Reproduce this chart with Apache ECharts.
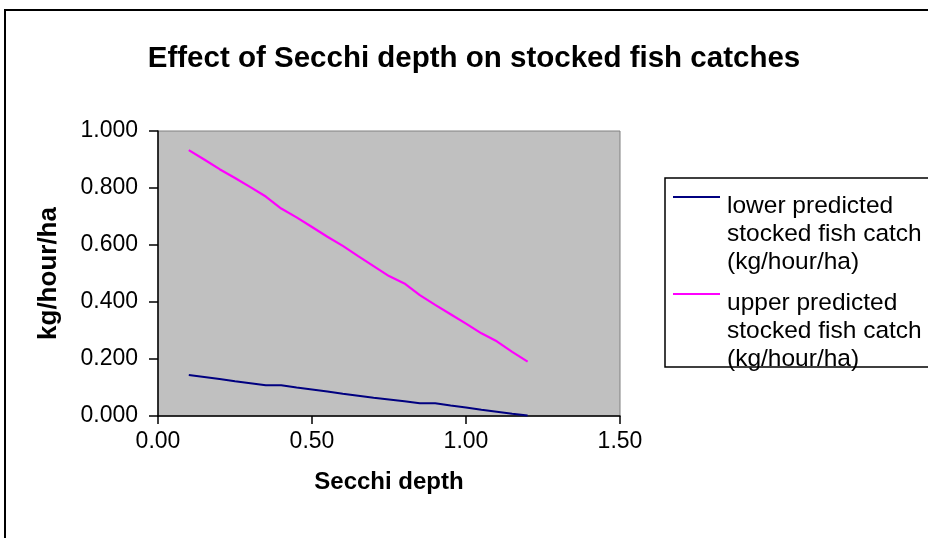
<!DOCTYPE html>
<html>
<head>
<meta charset="utf-8">
<script src="https://cdn.jsdelivr.net/npm/echarts@6/dist/echarts.min.js"></script>
<style>
html,body{margin:0;padding:0;background:#fff;}
#chart{width:928px;height:538px;}
</style>
</head>
<body>
<div id="chart"></div>
<script>
const secchiDepth = [0.10,0.15,0.20,0.25,0.30,0.35,0.40,0.45,0.50,0.55,0.60,0.65,0.70,0.75,0.80,0.85,0.90,0.95,1.00,1.05,1.10,1.15,1.20];
const lowerCatch = [0.144,0.137,0.130,0.122,0.115,0.108,0.108,0.100,0.093,0.086,0.078,0.071,0.064,0.058,0.052,0.045,0.045,0.037,0.030,0.022,0.015,0.008,0.002];
const upperCatch = [0.933,0.900,0.866,0.835,0.803,0.770,0.728,0.697,0.663,0.629,0.597,0.561,0.526,0.491,0.465,0.424,0.390,0.357,0.324,0.290,0.262,0.225,0.191];
const seriesNames = ['lower predicted\nstocked fish catch\n(kg/hour/ha)','upper predicted\nstocked fish catch\n(kg/hour/ha)'];
const xTicks = {min:0, max:1.5, interval:0.5};
const yTicks = {min:0, max:1.0, interval:0.2};

const chart = echarts.init(document.getElementById('chart'));
const FONT = '"Liberation Sans", Arial, sans-serif';
const legendIcon = 'path://M0,0h47v2h-47z M0,75h0.01v1h-0.01z';
chart.setOption({
  backgroundColor:'#ffffff',
  animation:false,
  textStyle:{fontFamily:FONT},
  title:{
    text:'Effect of Secchi depth on stocked fish catches',
    left:469, top:39, textAlign:'center',
    textStyle:{fontFamily:FONT, fontSize:29.5, fontWeight:'bold', color:'#000'}
  },
  graphic:[
    {type:'rect', z:-1, shape:{x:5, y:10, width:1000, height:600}, style:{fill:'none', stroke:'#000', lineWidth:2}, silent:true},
    {type:'rect', z:-1, shape:{x:665, y:178, width:400, height:189}, style:{fill:'#fff', stroke:'#000', lineWidth:1.5}, silent:true},
    {type:'rect', z:-2, shape:{x:158, y:131, width:462, height:285}, style:{fill:'#c0c0c0', stroke:'#808080', lineWidth:1}, silent:true}
  ],
  legend:{
    orient:'vertical', left:673, top:192, padding:0, itemGap:13,
    itemWidth:47, itemHeight:76,
    itemStyle:{borderWidth:0},
    data:[{name:seriesNames[0], icon:legendIcon},{name:seriesNames[1], icon:legendIcon}],
    textStyle:{fontFamily:FONT, fontSize:24.5, lineHeight:28, color:'#000', padding:[0,0,0,2]},
    selectedMode:false
  },
  grid:{left:158, right:308, top:131, bottom:122, containLabel:false},
  xAxis:{
    type:'value', min:xTicks.min, max:xTicks.max, interval:xTicks.interval,
    name:'Secchi depth', nameLocation:'middle', nameGap:54,
    nameTextStyle:{fontFamily:FONT, fontSize:24, fontWeight:'bold', color:'#000'},
    axisLine:{show:true, onZero:false, lineStyle:{color:'#000', width:1.5}},
    axisTick:{show:true, length:8, lineStyle:{color:'#000', width:1.5}},
    axisLabel:{margin:14, fontSize:23, color:'#000', fontFamily:FONT, formatter:v=>v.toFixed(2)},
    splitLine:{show:false}
  },
  yAxis:{
    type:'value', min:yTicks.min, max:yTicks.max, interval:yTicks.interval,
    name:'kg/hour/ha', nameLocation:'middle', nameGap:96, nameRotate:90,
    nameTextStyle:{fontFamily:FONT, fontSize:26, fontWeight:'bold', color:'#000'},
    axisLine:{show:true, lineStyle:{color:'#000', width:1.5}},
    axisTick:{show:true, length:9, lineStyle:{color:'#000', width:1.5}},
    axisLabel:{margin:20, fontSize:23, color:'#000', fontFamily:FONT, formatter:v=>v.toFixed(3)},
    splitLine:{show:false}
  },
  series:[
    {name:seriesNames[0], type:'line', showSymbol:false, symbol:'none', color:'#000080',
     lineStyle:{color:'#000080', width:2}, data:secchiDepth.map((x,i)=>[x, lowerCatch[i]])},
    {name:seriesNames[1], type:'line', showSymbol:false, symbol:'none', color:'#ff00ff',
     lineStyle:{color:'#ff00ff', width:2.2}, data:secchiDepth.map((x,i)=>[x, upperCatch[i]])}
  ]
});
</script>
</body>
</html>
